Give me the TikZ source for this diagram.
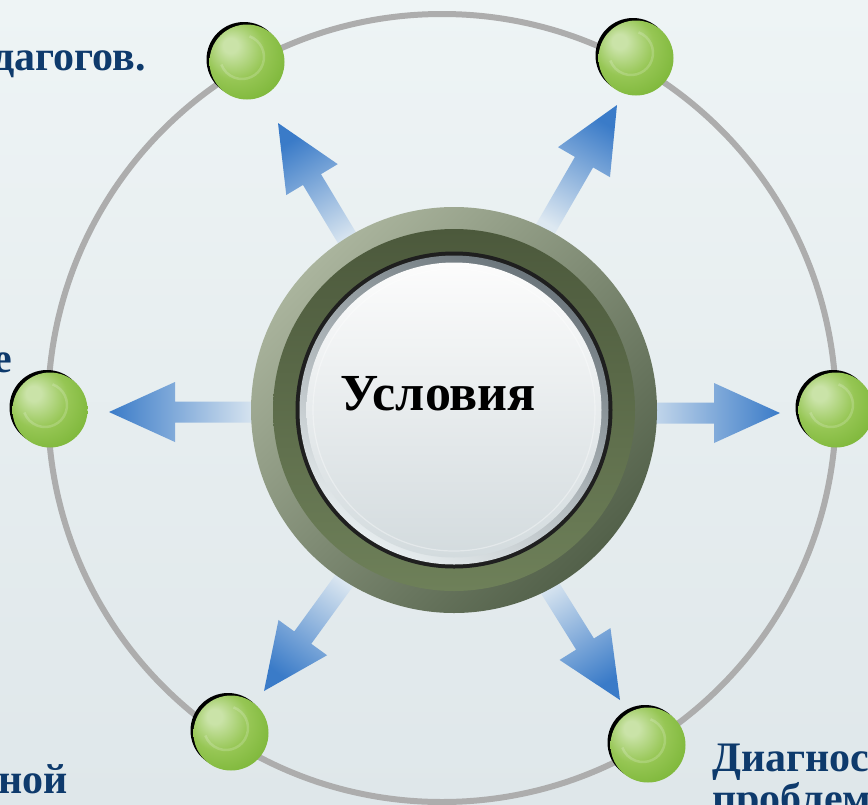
\documentclass[tikz,border=0pt]{standalone}
\usepackage{fontspec}
\setmainfont{Liberation Serif}
\usetikzlibrary{calc}
\definecolor{bgtop}{HTML}{EEF4F5}
\definecolor{bgbot}{HTML}{DFE7EA}
\definecolor{orbit}{HTML}{ADADAD}
\definecolor{arrtip}{HTML}{3A7BC8}
\definecolor{arrmid}{HTML}{80ACDC}
\definecolor{arrback}{HTML}{DDE8F1}
\definecolor{ringA}{HTML}{AAB49D}
\definecolor{ringB}{HTML}{53614A}
\definecolor{bandtop}{HTML}{4C593C}
\definecolor{bandbot}{HTML}{6E8059}
\definecolor{silvtop}{HTML}{6C767C}
\definecolor{silvbot}{HTML}{E6ECEE}
\definecolor{disctop}{HTML}{FCFCFC}
\definecolor{discbot}{HTML}{D3DBDE}
\definecolor{navy}{HTML}{0E3A6C}
\definecolor{gA}{HTML}{CAE3A8}
\definecolor{gB}{HTML}{96C654}
\definecolor{gC}{HTML}{7AB536}
\definecolor{gD}{HTML}{70AA30}
\pgfdeclareradialshading{greenball}{\pgfpoint{-12bp}{12bp}}{color(0bp)=(gA); color(5bp)=(gA); color(20bp)=(gB); color(36bp)=(gC); color(52bp)=(gD); color(60bp)=(gD)}
\newcommand{\blockarr}[2]{%
  \pgfmathsetmacro\sang{#2-90}%
  \shade[top color=arrtip, middle color=arrmid, bottom color=arrback, shading angle=\sang]
    ($(#1)+(#2+180:150)+(#2+90:10.5)$) -- ($(#1)+(#2+180:66)+(#2+90:10.5)$) --
    ($(#1)+(#2+180:66)+(#2+90:30)$) -- (#1) --
    ($(#1)+(#2+180:66)+(#2-90:30)$) -- ($(#1)+(#2+180:66)+(#2-90:10.5)$) --
    ($(#1)+(#2+180:150)+(#2-90:10.5)$) -- cycle;}
\tikzset{
  ballnode/.style={circle, minimum size=75pt, inner sep=0pt, shading=greenball},
  sidetext/.style={text=navy, font=\fontsize{42}{47}\selectfont\bfseries, inner sep=0pt}
}
\begin{document}
\begin{tikzpicture}[x=1pt,y=1pt]
\useasboundingbox (0,0) rectangle (868,-804);
\clip (0,0) rectangle (868,-804);
\shade[top color=bgtop, bottom color=bgbot] (0,0) rectangle (868,-804);
% orbit
\coordinate (O) at (442,-408);
\draw[line width=6pt, color=orbit] (O) circle (394);
% arrow tips
\coordinate (tR) at (780,-413);
\coordinate (tL) at (109,-412);
\coordinate (tTL) at (278,-123);
\coordinate (tTR) at (617,-105);
\coordinate (tBL) at (264,-691);
\coordinate (tBR) at (620,-700);
\blockarr{tR}{0}
\blockarr{tL}{180}
\blockarr{tTL}{121}
\blockarr{tTR}{60}
\blockarr{tBL}{234}
\blockarr{tBR}{302}
% central ring
\node[circle, minimum size=406pt, inner sep=0pt] (ring) at (454,-410) {};
\shade[top color=ringA, bottom color=ringB, shading angle=45] (ring.center) circle (203);
\shade[top color=bandtop, bottom color=bandbot] (ring.center) circle (181);
\fill[black!88] (ring.center) circle (158.5);
\shade[top color=silvtop, bottom color=silvbot, shading angle=-30] (ring.center) circle (154.5);
\shade[top color=disctop, bottom color=discbot] (ring.center) circle (147.5);
\draw[white, opacity=0.35, line width=1.2pt] (ring.center) circle (141);
\node[anchor=base, inner sep=0pt, font=\fontsize{52}{57}\selectfont\bfseries] (lbl) at (438,-410) {Условия};
% balls
\foreach \n/\x/\y in {bTL/247/62, bTR/636/58, bL/50/410, bR/836/410, bBL/231/733, bBR/648/745}{
  \fill[black] (\x-3,-\y+2.5) circle (37.5);
  \node[ballnode] (\n) at (\x,-\y) {};
  \draw[white, opacity=0.18, line width=2.5pt] ($(\n.center)+(-5,5)+(70:22)$) arc[start angle=70, end angle=-160, radius=22];
}
% texts
\node[sidetext, anchor=base east] (t1) at (146,-70) {дагогов.};
\node[sidetext, anchor=base east] (t2) at (12,-372) {е};
\node[sidetext, anchor=base east] (t3) at (68,-793) {ной};
\node[sidetext, anchor=base west] (t4) at (712,-771) {Диагнос};
\node[sidetext, anchor=base west] (t5) at (712,-812) {проблем};
\end{tikzpicture}
\end{document}
